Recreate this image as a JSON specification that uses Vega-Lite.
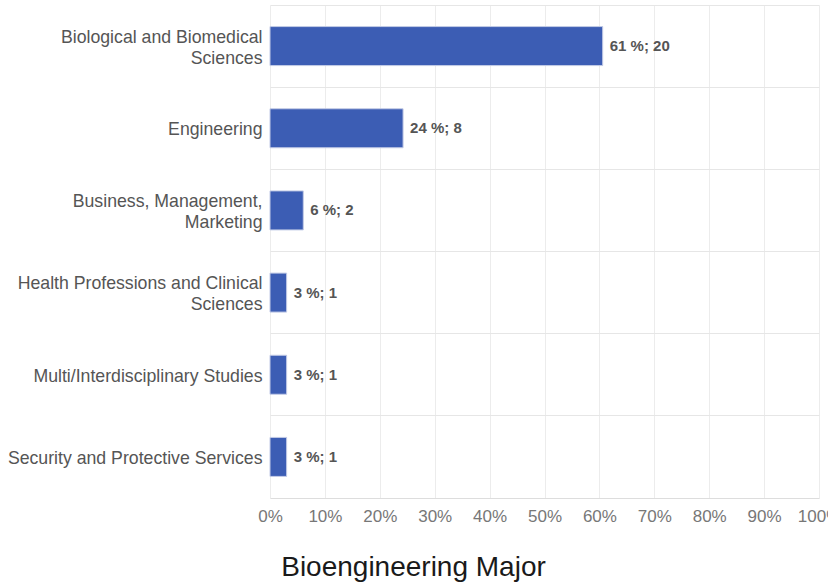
{
  "$schema": "https://vega.github.io/schema/vega-lite/v6.json",
  "autosize": {"type": "none"},
  "width": 549,
  "height": 493,
  "padding": {"left": 270, "top": 5, "right": 9, "bottom": 84},
  "background": "white",
  "config": {
    "view": {"stroke": null},
    "font": "Liberation Sans"
  },
  "title": {
    "text": "Bioengineering Major",
    "orient": "bottom",
    "anchor": "middle",
    "dx": -131,
    "offset": 30,
    "fontSize": 28,
    "fontWeight": "normal",
    "color": "#1a1a1a",
    "font": "Liberation Sans"
  },
  "data": {
    "values": [
      {"major": "Biological and Biomedical|Sciences", "share": 0.606, "label": "61 %; 20"},
      {"major": "Engineering", "share": 0.2424, "label": "24 %; 8"},
      {"major": "Business, Management,|Marketing", "share": 0.0606, "label": "6 %; 2"},
      {"major": "Health Professions and Clinical|Sciences", "share": 0.0303, "label": "3 %; 1"},
      {"major": "Multi/Interdisciplinary Studies", "share": 0.0303, "label": "3 %; 1"},
      {"major": "Security and Protective Services", "share": 0.0303, "label": "3 %; 1"}
    ]
  },
  "encoding": {
    "y": {
      "field": "major",
      "type": "nominal",
      "sort": null,
      "scale": {"paddingInner": 0, "paddingOuter": 0},
      "axis": {
        "title": null,
        "domain": false,
        "ticks": false,
        "grid": true,
        "bandPosition": 0,
        "gridColor": "#e6e6e6",
        "gridWidth": 1,
        "labelExpr": "split(datum.label, '|')",
        "labelOffset": {"condition": {"test": "indexof(datum.label, '|') >= 0", "value": -8.5}, "value": 2},
        "labelFontSize": 17.7,
        "labelColor": "#555555",
        "labelPadding": 8,
        "labelLineHeight": 21,
        "labelLimit": 300,
        "labelFont": "Liberation Sans"
      }
    },
    "x": {
      "field": "share",
      "type": "quantitative",
      "scale": {"domain": [0, 1], "nice": false},
      "axis": {
        "title": null,
        "values": [0, 0.1, 0.2, 0.3, 0.4, 0.5, 0.6, 0.7, 0.8, 0.9, 1],
        "format": ".0%",
        "grid": true,
        "gridColor": "#ececec",
        "domain": true,
        "domainColor": "#dddddd",
        "ticks": false,
        "labelFontSize": 17,
        "labelColor": "#777777",
        "labelPadding": 10,
        "labelFont": "Liberation Sans",
        "labelFlush": false
      }
    }
  },
  "layer": [
    {
      "mark": {"type": "bar", "size": 39, "color": "#3c5db4", "stroke": "#c3cbe6", "strokeWidth": 1}
    },
    {
      "mark": {"type": "text", "align": "left", "baseline": "middle", "dx": 7, "fontSize": 15, "fontWeight": "bold", "color": "#555555", "font": "Liberation Sans"},
      "encoding": {"text": {"field": "label"}}
    }
  ]
}
